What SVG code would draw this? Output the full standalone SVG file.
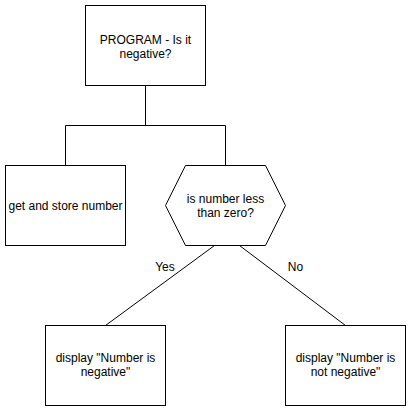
<svg xmlns="http://www.w3.org/2000/svg" width="411" height="411" viewBox="0 0 411 411">
<style>
.box{fill:#fff;stroke:#000;stroke-width:1}
.ln{fill:none;stroke:#000;stroke-width:1}
text{font-family:"Liberation Sans",Arial,Helvetica,sans-serif;font-size:12px;fill:#000;text-anchor:middle}
</style>
<rect width="411" height="411" fill="#fff"/>
<g id="connectors">
<path class="ln" d="M145.5 85.5V125.5M65.5 125.5H225.5M65.5 125.5V165.5M225.5 125.5V165.5"/>
<path class="ln" d="M214.5 245.5L105.5 325.5"/>
<path class="ln" d="M239.5 245.5L345.5 325.5"/>
<text x="165" y="271">Yes</text>
<text x="295.5" y="271">No</text>
</g>
<g id="program">
<rect class="box" x="85.5" y="5.5" width="120" height="80"/>
<text x="145.5" y="44">PROGRAM - Is it</text>
<text x="145.5" y="58">negative?</text>
</g>
<g id="get-number">
<rect class="box" x="5.5" y="165.5" width="120" height="80"/>
<text x="65.5" y="209.5">get and store number</text>
</g>
<g id="decision">
<polygon class="box" points="185.5,165.5 265.5,165.5 285.5,205.5 265.5,245.5 185.5,245.5 165.5,205.5"/>
<text x="225.5" y="203">is number less</text>
<text x="225.5" y="217">than zero?</text>
</g>
<g id="yes-box">
<rect class="box" x="45.5" y="325.5" width="120" height="80"/>
<text x="105.5" y="362">display "Number is</text>
<text x="105.5" y="376">negative"</text>
</g>
<g id="no-box">
<rect class="box" x="285.5" y="325.5" width="120" height="80"/>
<text x="345.5" y="362">display "Number is</text>
<text x="345.5" y="376">not negative"</text>
</g>
</svg>
